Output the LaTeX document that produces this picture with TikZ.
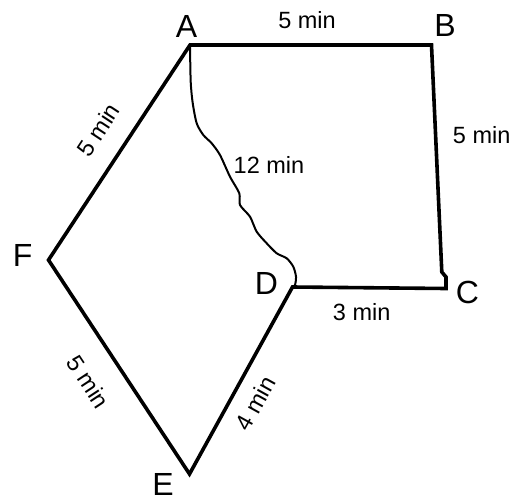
\documentclass[tikz,border=0pt]{standalone}
\usepackage{fontspec}
\setmainfont{Liberation Sans}
\begin{document}
\begin{tikzpicture}[x=1pt,y=-1pt,
  edge/.style={line width=3.6pt,line join=miter,line cap=butt},
  path/.style={line width=2pt,line join=round,line cap=round},
  vlabel/.style={font=\fontsize{32}{36}\selectfont,inner sep=0pt},
  tlabel/.style={font=\fontsize{23.5}{26}\selectfont,inner sep=0pt}]
\useasboundingbox (0,0) rectangle (514,501);
\coordinate (A) at (190,45);
\coordinate (B) at (431.5,45);
\coordinate (C) at (446,288.5);
\coordinate (D) at (292.5,287);
\coordinate (E) at (189.5,474);
\coordinate (F) at (48.5,260);
\coordinate (C1) at (441.8,272);
\coordinate (C2) at (446,277);
% edges
\draw[edge] (F) -- (A) -- (B) -- (C1) -- (C2) -- (C) -- (D) -- (E) -- cycle;
% winding path A to D
\draw[path] plot[smooth,tension=0.45] coordinates {
  (190,45) (190.7,81.7) (192.7,103) (196.7,123.3) (203.3,135) (211.7,143.3)
  (220,155) (230,176.7) (239.3,193.3) (240,205) (250,216.7) (256.7,231.7)
  (266.7,243.3) (276.7,253.3) (286.7,258.3) (293.3,266.7) (296,276.7)
  (295,285) (292.5,287)};
% vertex labels
\node[vlabel] (lA) at (186.5,26.5) {A};
\node[vlabel] (lB) at (445,25) {B};
\node[vlabel] (lC) at (467.5,292.5) {C};
\node[vlabel] (lD) at (266.5,283) {D};
\node[vlabel] (lE) at (163,484) {E};
\node[vlabel] (lF) at (22.7,255) {F};
% edge labels
\node[tlabel] (tAB) at (307,20) {5 min};
\node[tlabel] (tBC) at (481.7,135) {5 min};
\node[tlabel] (tAD) at (269,165) {12 min};
\node[tlabel] (tDC) at (361.7,311.7) {3 min};
\node[tlabel,rotate=61] (tDE) at (255,403) {4 min};
\node[tlabel,rotate=56.6] (tAF) at (98.3,130) {5 min};
\node[tlabel,rotate=-56.6] (tFE) at (88.3,381.7) {5 min};
\end{tikzpicture}
\end{document}
